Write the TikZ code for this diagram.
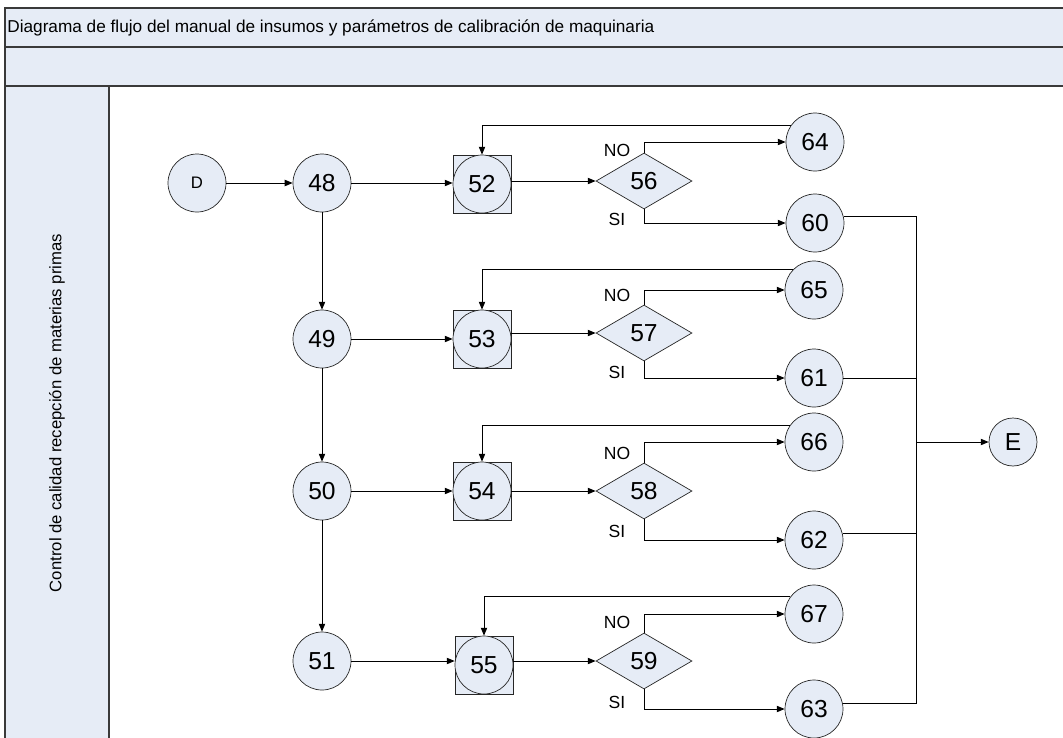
\documentclass[tikz,border=0pt]{standalone}
\usepackage{fontspec}
\setmainfont{Liberation Sans}
\usepackage{tikz}
\usepackage{xcolor}
\usetikzlibrary{shapes.geometric,arrows.meta}
\definecolor{pale}{HTML}{E6ECF6}
\definecolor{rim}{HTML}{3A3A3A}

\begin{document}
\begin{tikzpicture}[x=0.02cm,y=-0.02cm,
  proc/.style={circle,draw=black!85,fill=pale,minimum size=1.16cm,inner sep=0pt,font=\fontsize{14}{16}\selectfont},
  term/.style={circle,draw=black!85,fill=pale,minimum size=0.96cm,inner sep=0pt,font=\fontsize{14}{16}\selectfont},
  boxed/.style={rectangle,draw=black!85,fill=pale,minimum size=1.16cm,inner sep=0pt},
  choice/.style={diamond,draw=black!85,fill=pale,minimum width=1.92cm,minimum height=1.12cm,inner sep=0pt,font=\fontsize{14}{16}\selectfont},
  tag/.style={font=\fontsize{10}{11}\selectfont},
  arr/.style={-{Triangle[length=4.5pt,width=3.6pt]},line width=0.55pt},
  wire/.style={line width=0.55pt}]
\useasboundingbox (0,0) rectangle (1063,738);
\fill[white] (0,0) rectangle (1063,738);
\filldraw[fill=pale,draw=rim,line width=0.9pt] (5,8) rectangle (1075,47);
\filldraw[fill=pale,draw=rim,line width=0.9pt] (5,47) rectangle (1075,86);
\filldraw[fill=pale,draw=rim,line width=0.9pt] (5,86) rectangle (109,750);
\node (title) at (7,28) [anchor=west,inner sep=0pt,font=\fontsize{9.8}{11}\selectfont] {Diagrama de flujo del manual de insumos y parámetros de calibración de maquinaria};
\node (lane) at (57,413) [rotate=90,font=\fontsize{9.5}{11}\selectfont] {Control de calidad recepción de materias primas};

\node (nD) at (197,183) [proc,font=\fontsize{9.5}{10}\selectfont] {D};
\node (n48) at (322,183) [proc] {48};
\node (n49) at (322,339) [proc] {49};
\node (n50) at (322,491) [proc] {50};
\node (n51) at (322,661) [proc] {51};

\node (s52) at (482,184) [boxed] {};
\node (n52) at (482,184) [proc] {52};
\node (s53) at (482,339) [boxed] {};
\node (n53) at (482,339) [proc] {53};
\node (s54) at (482,491) [boxed] {};
\node (n54) at (482,491) [proc] {54};
\node (s55) at (484,665) [boxed] {};
\node (n55) at (484,665) [proc] {55};

\node (d56) at (644,181) [choice] {56};
\node (d57) at (644,333) [choice] {57};
\node (d58) at (644,491) [choice] {58};
\node (d59) at (644,661) [choice] {59};

\node (n64) at (815,142) [proc] {64};
\node (n60) at (815,223) [proc] {60};
\node (n65) at (814,290) [proc] {65};
\node (n61) at (814,378) [proc] {61};
\node (n66) at (814,442) [proc] {66};
\node (n62) at (814,540) [proc] {62};
\node (n67) at (814,614) [proc] {67};
\node (n63) at (814,709) [proc] {63};

\node (nE) at (1013,442) [term] {E};
\coordinate (jx) at (916,442);

\node (no56) at (617,150) [tag] {NO};
\node (si56) at (617,219) [tag] {SI};
\node (no57) at (617,295) [tag] {NO};
\node (si57) at (617,372) [tag] {SI};
\node (no58) at (617,453) [tag] {NO};
\node (si58) at (617,531) [tag] {SI};
\node (no59) at (617,622) [tag] {NO};
\node (si59) at (617,702) [tag] {SI};

\draw[arr] (nD) -- (n48);
\draw[arr] (n48) -- (n49);
\draw[arr] (n49) -- (n50);
\draw[arr] (n50) -- (n51);
\draw[arr] (n48) -- (s52.west |- n48);
\draw[arr] (n49) -- (s53);
\draw[arr] (n50) -- (s54);
\draw[arr] (n51) -- (s55.west |- n51);

\draw[arr] (s52.east |- d56) -- (d56);
\draw[arr] (s53.east |- d57) -- (d57);
\draw[arr] (s54) -- (d58);
\draw[arr] (s55.east |- d59) -- (d59);

\draw[arr] (d56.north) |- (n64);
\draw[arr] (d56.south) |- (n60);
\draw[arr] (d57.north) |- (n65);
\draw[arr] (d57.south) |- (n61);
\draw[arr] (d58.north) |- (n66);
\draw[arr] (d58.south) |- (n62);
\draw[arr] (d59.north) |- (n67);
\draw[arr] (d59.south) |- (n63);

\draw[arr] (n64.146) -| (s52.north);
\draw[arr] (n65.136) -| (s53.north);
\draw[arr] (n66.146) -| (s54.north);
\draw[arr] (n67.144) -| (s55.north);

\draw[wire] (n60.12) -| (jx);
\draw[wire] (n61.east) -| (jx);
\draw[wire] (n62.12) -| (jx);
\draw[wire] (n63.10) -| (jx);
\draw[arr] (jx) -- (nE);
\end{tikzpicture}
\end{document}
